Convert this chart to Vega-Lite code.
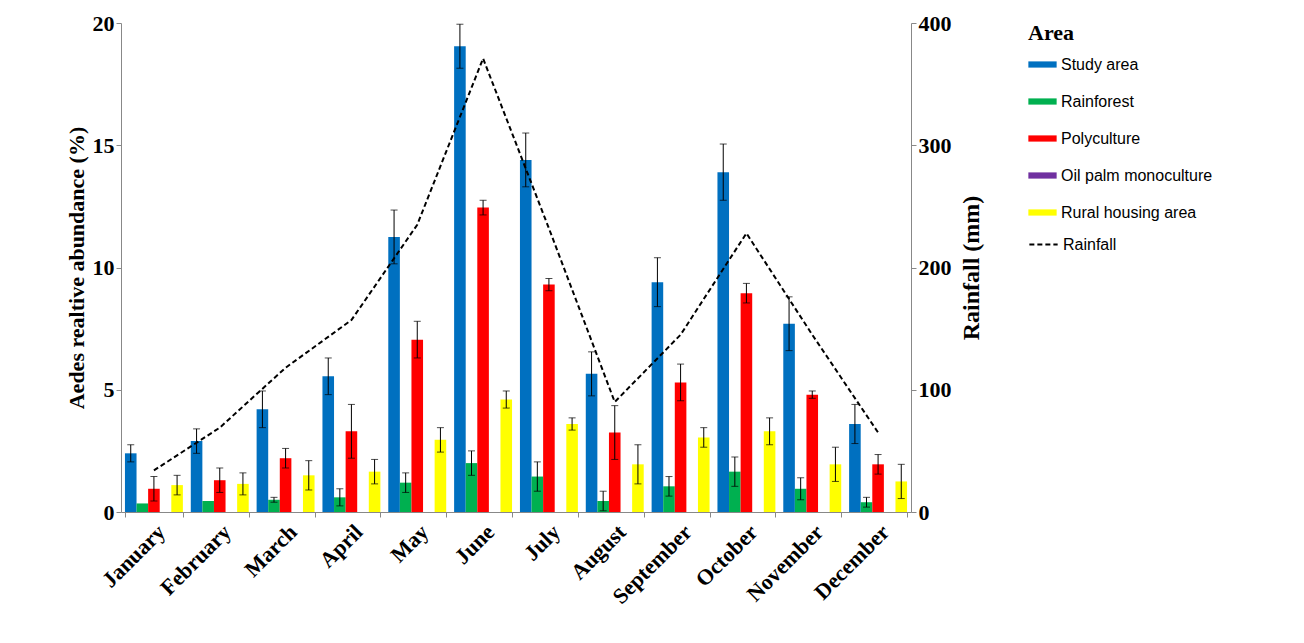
{
"$schema":"https://vega.github.io/schema/vega-lite/v6.json",
"width":790,"height":489,
"padding":{"left":65,"top":12,"right":10,"bottom":5},
"config":{"font":"Liberation Serif","view":{"stroke":null},"axis":{"grid":false,"domainColor":"#888","tickColor":"#888","labelColor":"black","titleColor":"black"}},
"datasets":{
"bars":[
{"m":"January","a":"Study area","v":2.4,"e":0.35},{"m":"January","a":"Rainforest","v":0.35,"e":0},{"m":"January","a":"Polyculture","v":0.95,"e":0.5},{"m":"January","a":"Oil palm monoculture","v":0,"e":0},{"m":"January","a":"Rural housing area","v":1.1,"e":0.4},
{"m":"February","a":"Study area","v":2.9,"e":0.5},{"m":"February","a":"Rainforest","v":0.45,"e":0},{"m":"February","a":"Polyculture","v":1.3,"e":0.5},{"m":"February","a":"Oil palm monoculture","v":0,"e":0},{"m":"February","a":"Rural housing area","v":1.15,"e":0.45},
{"m":"March","a":"Study area","v":4.2,"e":0.75},{"m":"March","a":"Rainforest","v":0.5,"e":0.1},{"m":"March","a":"Polyculture","v":2.2,"e":0.4},{"m":"March","a":"Oil palm monoculture","v":0,"e":0},{"m":"March","a":"Rural housing area","v":1.5,"e":0.6},
{"m":"April","a":"Study area","v":5.55,"e":0.75},{"m":"April","a":"Rainforest","v":0.6,"e":0.35},{"m":"April","a":"Polyculture","v":3.3,"e":1.1},{"m":"April","a":"Oil palm monoculture","v":0,"e":0},{"m":"April","a":"Rural housing area","v":1.65,"e":0.5},
{"m":"May","a":"Study area","v":11.25,"e":1.1},{"m":"May","a":"Rainforest","v":1.2,"e":0.4},{"m":"May","a":"Polyculture","v":7.05,"e":0.75},{"m":"May","a":"Oil palm monoculture","v":0,"e":0},{"m":"May","a":"Rural housing area","v":2.95,"e":0.5},
{"m":"June","a":"Study area","v":19.05,"e":0.9},{"m":"June","a":"Rainforest","v":2.0,"e":0.5},{"m":"June","a":"Polyculture","v":12.45,"e":0.3},{"m":"June","a":"Oil palm monoculture","v":0,"e":0},{"m":"June","a":"Rural housing area","v":4.6,"e":0.35},
{"m":"July","a":"Study area","v":14.4,"e":1.1},{"m":"July","a":"Rainforest","v":1.45,"e":0.6},{"m":"July","a":"Polyculture","v":9.3,"e":0.25},{"m":"July","a":"Oil palm monoculture","v":0,"e":0},{"m":"July","a":"Rural housing area","v":3.6,"e":0.25},
{"m":"August","a":"Study area","v":5.65,"e":0.9},{"m":"August","a":"Rainforest","v":0.45,"e":0.4},{"m":"August","a":"Polyculture","v":3.25,"e":1.1},{"m":"August","a":"Oil palm monoculture","v":0,"e":0},{"m":"August","a":"Rural housing area","v":1.95,"e":0.8},
{"m":"September","a":"Study area","v":9.4,"e":1.0},{"m":"September","a":"Rainforest","v":1.05,"e":0.4},{"m":"September","a":"Polyculture","v":5.3,"e":0.75},{"m":"September","a":"Oil palm monoculture","v":0,"e":0},{"m":"September","a":"Rural housing area","v":3.05,"e":0.4},
{"m":"October","a":"Study area","v":13.9,"e":1.15},{"m":"October","a":"Rainforest","v":1.65,"e":0.6},{"m":"October","a":"Polyculture","v":8.95,"e":0.4},{"m":"October","a":"Oil palm monoculture","v":0,"e":0},{"m":"October","a":"Rural housing area","v":3.3,"e":0.55},
{"m":"November","a":"Study area","v":7.7,"e":1.1},{"m":"November","a":"Rainforest","v":0.95,"e":0.45},{"m":"November","a":"Polyculture","v":4.8,"e":0.15},{"m":"November","a":"Oil palm monoculture","v":0,"e":0},{"m":"November","a":"Rural housing area","v":1.95,"e":0.7},
{"m":"December","a":"Study area","v":3.6,"e":0.8},{"m":"December","a":"Rainforest","v":0.4,"e":0.2},{"m":"December","a":"Polyculture","v":1.95,"e":0.4},{"m":"December","a":"Oil palm monoculture","v":0,"e":0},{"m":"December","a":"Rural housing area","v":1.25,"e":0.7}
],
"rain":[
{"m":"January","r":34,"s":"Rainfall"},{"m":"February","r":69,"s":"Rainfall"},{"m":"March","r":118,"s":"Rainfall"},{"m":"April","r":157,"s":"Rainfall"},{"m":"May","r":235,"s":"Rainfall"},{"m":"June","r":371,"s":"Rainfall"},{"m":"July","r":232,"s":"Rainfall"},{"m":"August","r":90,"s":"Rainfall"},{"m":"September","r":145,"s":"Rainfall"},{"m":"October","r":228,"s":"Rainfall"},{"m":"November","r":145,"s":"Rainfall"},{"m":"December","r":65,"s":"Rainfall"}
]},
"encoding":{"x":{"field":"m","type":"nominal","sort":null,"title":null,"scale":{"paddingInner":0.12,"paddingOuter":0.06},"axis":{"labelAngle":-45,"labelFontSize":22,"labelFontWeight":"bold","ticks":true,"tickBand":"extent","labelPadding":4}}},
"layer":[
{"data":{"name":"bars"},
 "transform":[{"calculate":"datum.v-datum.e","as":"lo"},{"calculate":"datum.v+datum.e","as":"hi"}],
 "encoding":{"xOffset":{"field":"a","type":"nominal","sort":["Study area","Rainforest","Polyculture","Oil palm monoculture","Rural housing area"]}},
 "layer":[
 {"mark":{"type":"bar"},"encoding":{"y":{"field":"v","type":"quantitative","scale":{"domain":[0,20]},"axis":{"values":[0,5,10,15,20],"labelFontSize":22,"labelFontWeight":"bold","titleFontSize":22,"titleFontWeight":"bold","title":"Aedes realtive abundance  (%)","ticks":true}},
  "color":{"field":"a","type":"nominal","sort":["Study area","Rainforest","Polyculture","Oil palm monoculture","Rural housing area"],"scale":{"range":["#0070C0","#00B050","#FF0000","#7030A0","#FFFF00"]},"legend":{"title":"Area","titleFontSize":22,"titleFontWeight":"bold","labelFont":"Liberation Sans","labelFontSize":16,"symbolType":"M-1,-0.22H1V0.22H-1Z","symbolSize":800,"symbolStrokeWidth":0,"rowPadding":14,"orient":"right","offset":45}}}},
 {"mark":{"type":"rule","color":"black","strokeWidth":1},"transform":[{"filter":"datum.e>0"}],"encoding":{"y":{"field":"lo","type":"quantitative"},"y2":{"field":"hi"}}},
 {"mark":{"type":"tick","color":"black","thickness":1,"size":7},"transform":[{"filter":"datum.e>0"}],"encoding":{"y":{"field":"lo","type":"quantitative"}}},
 {"mark":{"type":"tick","color":"black","thickness":1,"size":7},"transform":[{"filter":"datum.e>0"}],"encoding":{"y":{"field":"hi","type":"quantitative"}}}
 ]},
{"data":{"name":"rain"},"mark":{"type":"line","color":"black","strokeWidth":2},
 "encoding":{"y":{"field":"r","type":"quantitative","scale":{"domain":[0,400]},"axis":{"orient":"right","values":[0,100,200,300,400],"labelFontSize":22,"labelFontWeight":"bold","titleFontSize":24,"titleFontWeight":"bold","title":"Rainfall (mm)","titleAngle":270,"titlePadding":32}},
 "strokeDash":{"field":"s","type":"nominal","scale":{"range":[[5,3]]},"legend":{"title":null,"labelFont":"Liberation Sans","labelFontSize":16,"symbolStrokeWidth":2,"symbolSize":800,"orient":"right","offset":45,"symbolStrokeColor":"black"}}}}
],
"resolve":{"scale":{"y":"independent"}}
}
